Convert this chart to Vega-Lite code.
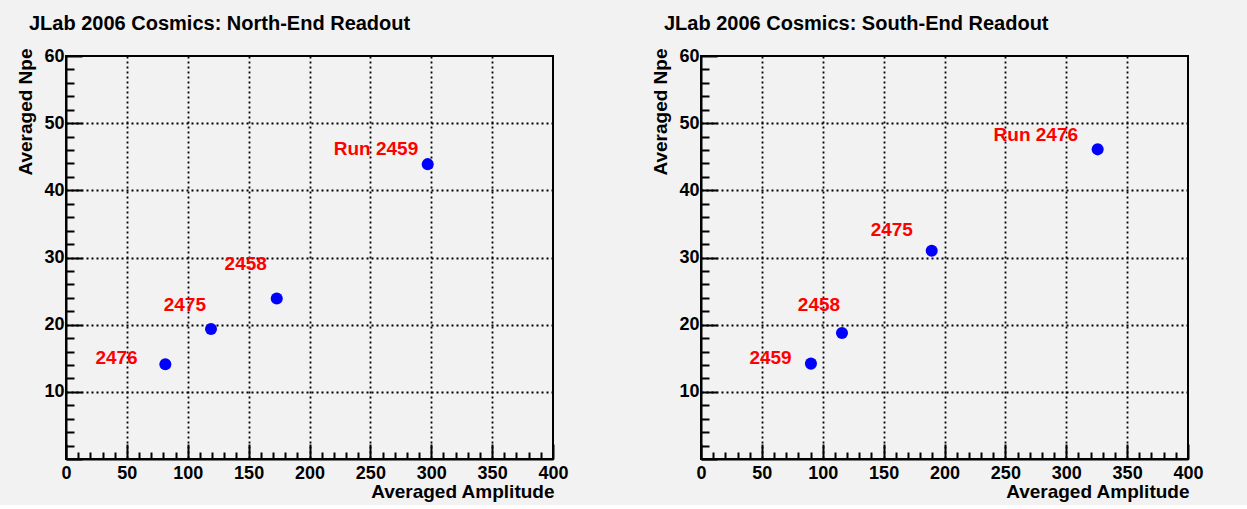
{
  "$schema": "https://vega.github.io/schema/vega-lite/v6.json",
  "autosize": {"type": "pad"},
  "padding": {"left": 14, "top": 13, "right": 45, "bottom": 3},
  "background": "#f2f2f2",
  "spacing": 148,
  "bounds": "flush",
  "config": {
    "view": {"stroke": "black", "strokeWidth": 2, "fill": null},
    "axis": {
      "domainColor": "black", "domainWidth": 2,
      "tickColor": "black", "tickWidth": 2,
      "gridColor": "black", "gridDash": [2, 3], "gridWidth": 1.8,
      "labelFont": "Liberation Sans", "labelFontWeight": "bold", "labelFontSize": 18, "labelColor": "black",
      "titleFont": "Liberation Sans", "titleFontWeight": "bold", "titleFontSize": 19, "titleColor": "black",
      "labelOverlap": false, "labelFlush": false, "tickCount": 1000, "format": "d"
    },
    "title": {"font": "Liberation Sans", "fontWeight": "bold", "fontSize": 20, "color": "black", "anchor": "start", "frame": "group"}
  },
  "datasets": {
    "north": [
      {"run": "2459", "amp": 297.1, "npe": 43.9, "label": "Run 2459", "labelX": 254.6, "labelY": 46.1},
      {"run": "2458", "amp": 173.1, "npe": 23.9, "label": "2458", "labelX": 147.6, "labelY": 29.0},
      {"run": "2475", "amp": 119.1, "npe": 19.35, "label": "2475", "labelX": 97.6, "labelY": 23.0},
      {"run": "2476", "amp": 81.6, "npe": 14.1, "label": "2476", "labelX": 41.5, "labelY": 15.0}
    ],
    "south": [
      {"run": "2476", "amp": 325.8, "npe": 46.1, "label": "Run 2476", "labelX": 275.0, "labelY": 48.3},
      {"run": "2475", "amp": 189.5, "npe": 31.0, "label": "2475", "labelX": 156.7, "labelY": 34.15},
      {"run": "2458", "amp": 115.8, "npe": 18.75, "label": "2458", "labelX": 96.9, "labelY": 23.0},
      {"run": "2459", "amp": 90.3, "npe": 14.2, "label": "2459", "labelX": 57.1, "labelY": 15.0}
    ]
  },
  "hconcat": [
    {
      "width": 487, "height": 403,
      "title": {"text": "JLab 2006 Cosmics: North-End Readout", "dx": -37, "offset": -3, "baseline": "alphabetic"},
      "data": {"name": "north"},
      "layer": [
        {
          "mark": {"type": "circle", "size": 145, "color": "#0000ff", "opacity": 1},
          "encoding": {
            "x": {"field": "amp", "type": "quantitative", "scale": {"domain": [0, 400], "nice": false},
              "axis": {"title": "Averaged Amplitude", "tickCount": 1000, "format": "d",
                "values": [0,10,20,30,40,50,60,70,80,90,100,110,120,130,140,150,160,170,180,190,200,210,220,230,240,250,260,270,280,290,300,310,320,330,340,350,360,370,380,390,400],
                "labelExpr": "datum.value % 50 === 0 ? datum.label : ''",
                "tickSize": {"condition": {"test": "datum.value % 50 === 0", "value": -15}, "value": -7},
                "gridOpacity": {"condition": {"test": "datum.value % 50 === 0 && datum.value > 0 && datum.value < 400", "value": 1}, "value": 0},
                "labelPadding": 20,
                "titleX": 488, "titleY": 38, "titleAlign": "right", "titleBaseline": "alphabetic"}},
            "y": {"field": "npe", "type": "quantitative", "scale": {"domain": [0, 60], "nice": false},
              "axis": {"title": "Averaged Npe", "tickCount": 1000, "format": "d",
                "values": [0,2,4,6,8,10,12,14,16,18,20,22,24,26,28,30,32,34,36,38,40,42,44,46,48,50,52,54,56,58,60],
                "labelExpr": "datum.value % 10 === 0 && datum.value > 0 ? datum.label : ''",
                "tickSize": {"condition": {"test": "datum.value % 10 === 0", "value": -16}, "value": -8},
                "gridOpacity": {"condition": {"test": "datum.value % 10 === 0 && datum.value > 0 && datum.value < 60", "value": 1}, "value": 0},
                "labelPadding": 18,
                "titleX": -41, "titleY": -8, "titleAlign": "right", "titleAngle": -90, "titleBaseline": "middle"}}
          }
        },
        {
          "mark": {"type": "text", "color": "#ff0000", "font": "Liberation Sans", "fontWeight": "bold", "fontSize": 19, "align": "center", "baseline": "middle"},
          "encoding": {
            "x": {"field": "labelX", "type": "quantitative", "title": "Averaged Amplitude"},
            "y": {"field": "labelY", "type": "quantitative", "title": "Averaged Npe"},
            "text": {"field": "label"}
          }
        }
      ]
    },
    {
      "width": 487, "height": 403,
      "title": {"text": "JLab 2006 Cosmics: South-End Readout", "dx": -37, "offset": -3, "baseline": "alphabetic"},
      "data": {"name": "south"},
      "layer": [
        {
          "mark": {"type": "circle", "size": 145, "color": "#0000ff", "opacity": 1},
          "encoding": {
            "x": {"field": "amp", "type": "quantitative", "scale": {"domain": [0, 400], "nice": false},
              "axis": {"title": "Averaged Amplitude", "tickCount": 1000, "format": "d",
                "values": [0,10,20,30,40,50,60,70,80,90,100,110,120,130,140,150,160,170,180,190,200,210,220,230,240,250,260,270,280,290,300,310,320,330,340,350,360,370,380,390,400],
                "labelExpr": "datum.value % 50 === 0 ? datum.label : ''",
                "tickSize": {"condition": {"test": "datum.value % 50 === 0", "value": -15}, "value": -7},
                "gridOpacity": {"condition": {"test": "datum.value % 50 === 0 && datum.value > 0 && datum.value < 400", "value": 1}, "value": 0},
                "labelPadding": 20,
                "titleX": 488, "titleY": 38, "titleAlign": "right", "titleBaseline": "alphabetic"}},
            "y": {"field": "npe", "type": "quantitative", "scale": {"domain": [0, 60], "nice": false},
              "axis": {"title": "Averaged Npe", "tickCount": 1000, "format": "d",
                "values": [0,2,4,6,8,10,12,14,16,18,20,22,24,26,28,30,32,34,36,38,40,42,44,46,48,50,52,54,56,58,60],
                "labelExpr": "datum.value % 10 === 0 && datum.value > 0 ? datum.label : ''",
                "tickSize": {"condition": {"test": "datum.value % 10 === 0", "value": -16}, "value": -8},
                "gridOpacity": {"condition": {"test": "datum.value % 10 === 0 && datum.value > 0 && datum.value < 60", "value": 1}, "value": 0},
                "labelPadding": 18,
                "titleX": -41, "titleY": -8, "titleAlign": "right", "titleAngle": -90, "titleBaseline": "middle"}}
          }
        },
        {
          "mark": {"type": "text", "color": "#ff0000", "font": "Liberation Sans", "fontWeight": "bold", "fontSize": 19, "align": "center", "baseline": "middle"},
          "encoding": {
            "x": {"field": "labelX", "type": "quantitative", "title": "Averaged Amplitude"},
            "y": {"field": "labelY", "type": "quantitative", "title": "Averaged Npe"},
            "text": {"field": "label"}
          }
        }
      ]
    }
  ]
}
